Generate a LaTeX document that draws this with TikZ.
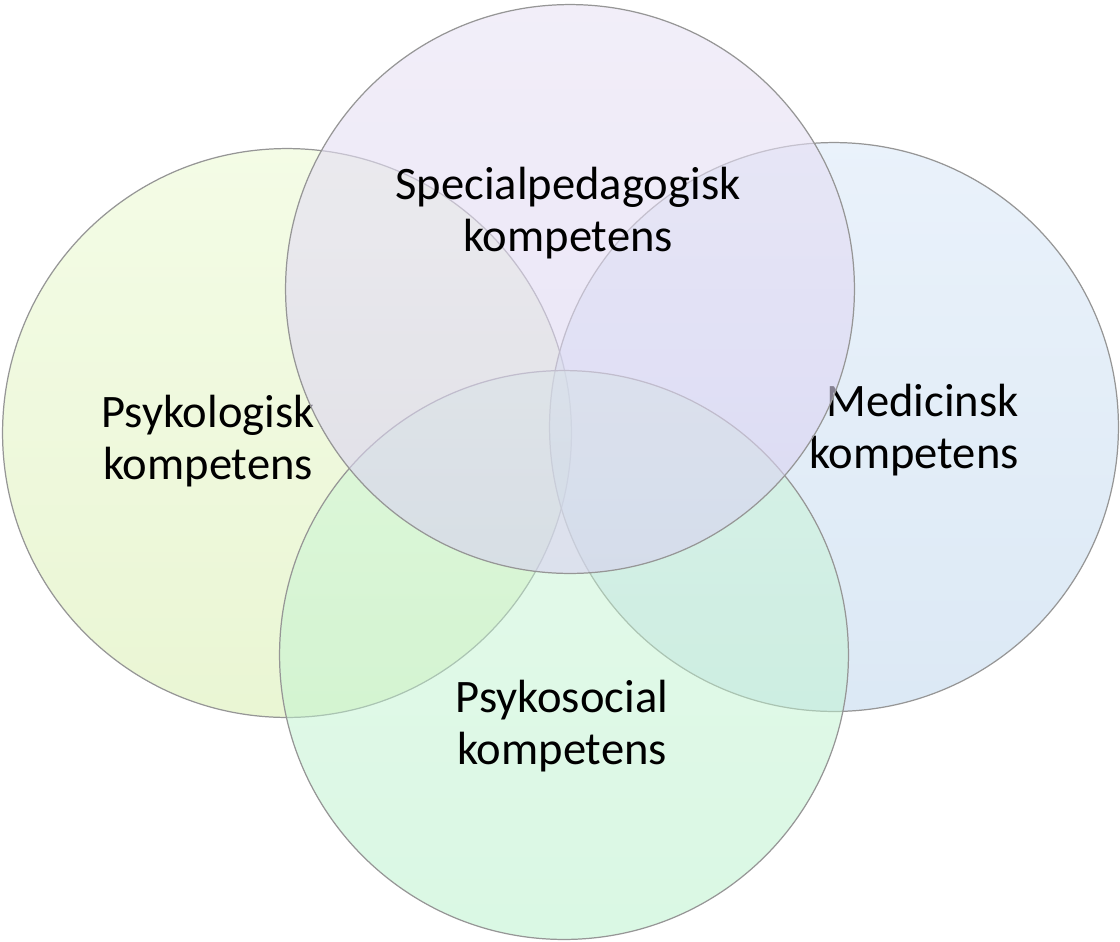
\documentclass[tikz,border=0pt]{standalone}
\usepackage{fontspec}
\setmainfont{Carlito}
\usepackage{tikz}

\definecolor{psykTop}{RGB}{233,249,205}
\definecolor{psykBot}{RGB}{213,237,169}
\definecolor{specTop}{RGB}{233,227,245}
\definecolor{specBot}{RGB}{216,208,240}
\definecolor{medTop}{RGB}{213,229,247}
\definecolor{medBot}{RGB}{185,211,235}
\definecolor{socTop}{RGB}{205,245,215}
\definecolor{socBot}{RGB}{181,241,201}
\definecolor{rim}{RGB}{150,150,150}

\begin{document}
\begin{tikzpicture}[x=0.02cm,y=-0.02cm,
  main node/.style={draw=rim,line width=0.7pt,circle,minimum size=11.38cm,inner sep=0pt,fill opacity=0.5},
  label node/.style={inner sep=0pt,font=\fontsize{26.5}{30}\selectfont,text=black}]
\useasboundingbox (0,0) rectangle (1120,941);

\node[main node, top color=psykTop, bottom color=psykBot] (psyk) at (287,433) {};
\node[label node, align=center] (psyktext) at (208,441) {Psykologisk\\kompetens};

\node[main node, top color=medTop, bottom color=medBot] (med) at (834,427) {};
\node[label node, align=right, anchor=east] (medtext) at (1019,430) {Medicinsk\\kompetens};

\node[main node, top color=socTop, bottom color=socBot] (soc) at (564,655) {};
\node[label node, align=center] (soctext) at (562,726) {Psykosocial\\kompetens};

\node[main node, fill opacity=0.6, top color=specTop, bottom color=specBot] (spec) at (570,289) {};
\node[label node, align=center] (spectext) at (568,213) {Specialpedagogisk\\kompetens};
\end{tikzpicture}
\end{document}
